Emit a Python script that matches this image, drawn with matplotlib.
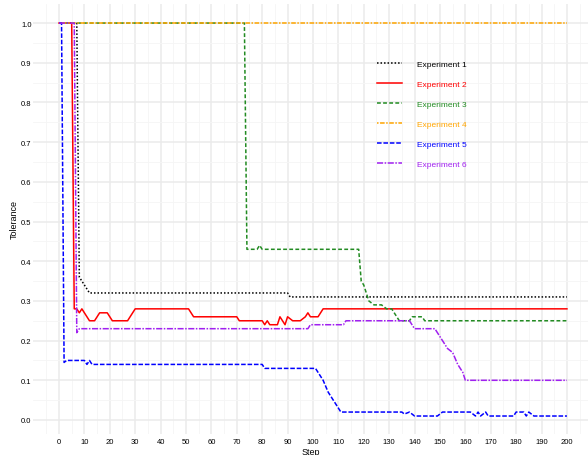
import matplotlib
matplotlib.use("Agg")
import matplotlib.pyplot as plt
from matplotlib.lines import Line2D

plt.rcParams['font.family'] = ['Liberation Sans', 'DejaVu Sans']

# values (step, tolerance) breakpoints
exp1_steps = [0, 7, 8, 9, 10, 11, 12, 90, 91, 200]
exp1_vals = [1.0, 1.0, 0.36, 0.35, 0.34, 0.33, 0.32, 0.32, 0.31, 0.31]

exp2_steps = [0, 5, 6, 7, 8, 9, 10, 11, 12, 14, 15, 16, 19, 20, 21, 27, 28, 29, 30,
              51, 52, 53, 70, 71, 80, 81, 82, 83, 86, 87, 89, 90, 92, 95, 97, 98, 99,
              102, 103, 104, 200]
exp2_vals = [1.0, 1.0, 0.28, 0.28, 0.27, 0.28, 0.27, 0.26, 0.25, 0.25, 0.26, 0.27, 0.27,
             0.26, 0.25, 0.25, 0.26, 0.27, 0.28, 0.28, 0.27, 0.26, 0.26, 0.25, 0.25, 0.24,
             0.25, 0.24, 0.24, 0.26, 0.24, 0.26, 0.25, 0.25, 0.26, 0.27, 0.26, 0.26, 0.27,
             0.28, 0.28]

exp3_steps = [0, 73, 74, 78, 79, 80, 118, 119, 120, 121, 122, 124, 127, 129, 131, 132,
              133, 134, 138, 139, 143, 144, 200]
exp3_vals = [1.0, 1.0, 0.43, 0.43, 0.44, 0.43, 0.43, 0.35, 0.34, 0.32, 0.30, 0.29, 0.29,
             0.28, 0.28, 0.27, 0.26, 0.25, 0.25, 0.26, 0.26, 0.25, 0.25]

exp4_steps = [0, 200]
exp4_vals = [1.0, 1.0]

exp5_steps = [0, 1, 2, 3, 10, 11, 12, 13, 80, 81, 101, 102, 104, 106, 108, 110, 111, 135,
              136, 138, 140, 149, 151, 162, 164, 165, 166, 168, 169, 179, 180, 183, 184,
              185, 187, 200]
exp5_vals = [1.0, 1.0, 0.145, 0.15, 0.15, 0.14, 0.15, 0.14, 0.14, 0.13, 0.13, 0.12, 0.10,
             0.07, 0.05, 0.03, 0.02, 0.02, 0.015, 0.02, 0.01, 0.01, 0.02, 0.02, 0.01, 0.02,
             0.01, 0.02, 0.01, 0.01, 0.02, 0.02, 0.01, 0.02, 0.01, 0.01]

exp6_steps = [0, 6, 7, 8, 98, 99, 112, 113, 138, 139, 140, 148, 149, 151, 153, 155, 157,
              159, 160, 200]
exp6_vals = [1.0, 1.0, 0.22, 0.23, 0.23, 0.24, 0.24, 0.25, 0.25, 0.24, 0.23, 0.23, 0.22,
             0.20, 0.18, 0.17, 0.14, 0.12, 0.10, 0.10]

labels = ['Experiment 1', 'Experiment 2', 'Experiment 3', 'Experiment 4',
          'Experiment 5', 'Experiment 6']
colors = ['black', 'red', '#228B22', '#FFA500', 'blue', '#A020F0']
styles = [(0, (1, 1.3)), '-', (0, (2.5, 1.5)), (0, (1, 1, 3, 1)),
          (0, (3, 1.2)), (0, (4, 1, 1, 1))]

series = [(exp1_steps, exp1_vals), (exp2_steps, exp2_vals), (exp3_steps, exp3_vals),
          (exp4_steps, exp4_vals), (exp5_steps, exp5_vals), (exp6_steps, exp6_vals)]

fig = plt.figure(figsize=(5.88, 4.56), dpi=100)
ax = fig.add_axes([33 / 588, 21 / 456, 555 / 588, 430 / 456])

# ggplot-ish minimal grid
for s in ax.spines.values():
    s.set_visible(False)
ax.set_xticks(range(0, 201, 10))
ax.set_xticks(range(-5, 210, 10), minor=True)
ax.set_yticks([i / 10 for i in range(11)])
ax.set_yticks([i / 20 for i in range(1, 21, 2)], minor=True)
ax.set_yticklabels([f'{i / 10:.1f}' for i in range(11)])
ax.grid(which='major', color='#ebebeb', linewidth=1.1)
ax.grid(which='minor', color='#f5f5f5', linewidth=0.6)
ax.set_axisbelow(True)
ax.tick_params(which='both', length=0, labelsize=5.5, colors='black')
ax.tick_params(axis='y', pad=1)
ax.tick_params(axis='x', pad=3)

for (st, vals), lab, c, ls in zip(series, labels, colors, styles):
    ax.plot(st, vals, color=c, linestyle=ls, linewidth=1.1, label=lab)

ax.set_xlim(-10.24, 208.3)
ax.set_ylim(-0.0353, 1.048)
ax.set_xlabel('Step', fontsize=6.5, labelpad=1)
ax.set_ylabel('Tolerance', fontsize=6.5, labelpad=2)

handles = [Line2D([], [], color=c, linestyle=ls, linewidth=1.1)
           for c, ls in zip(colors, styles)]
leg = ax.legend(handles, labels, loc='upper left', frameon=False,
                bbox_to_anchor=(377 / 588, 1 - 61.5 / 456), bbox_transform=fig.transFigure,
                borderaxespad=0, borderpad=0, fontsize=6, handlelength=3.0,
                handletextpad=1.76, labelspacing=1.45)
for t, c in zip(leg.get_texts(), colors):
    t.set_color(c)

fig.savefig('out.png', dpi=100)
